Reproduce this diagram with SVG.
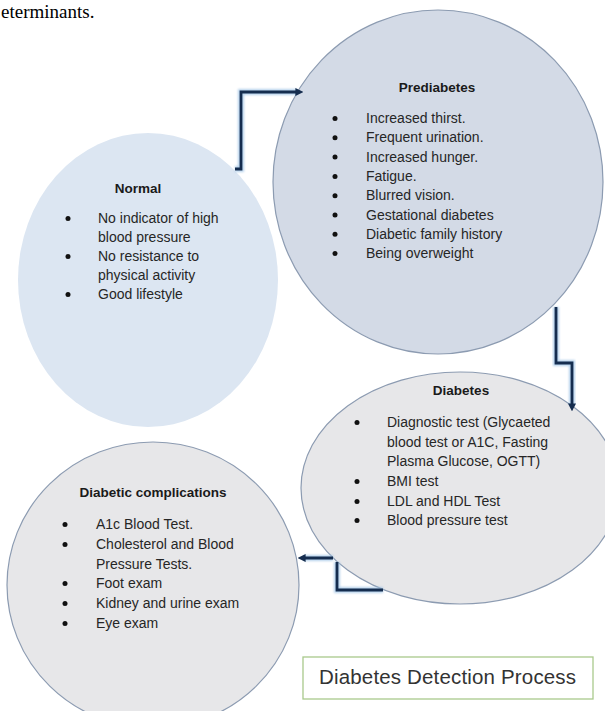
<svg xmlns="http://www.w3.org/2000/svg" xmlns:xlink="http://www.w3.org/1999/xlink" width="605" height="711" viewBox="0 0 605 711">
<style>
  .t{font-family:"Liberation Sans",Arial,sans-serif;font-size:14px;fill:#262626}
  .h{font-family:"Liberation Sans",Arial,sans-serif;font-size:13.5px;font-weight:bold;fill:#1a1a1a;text-anchor:middle}
  .b{fill:#111}
  .glow{fill:none;stroke:#9dc3e6;stroke-width:6;stroke-opacity:0.75;stroke-linejoin:miter;filter:url(#blur)}
  .line{fill:none;stroke:#152d4f;stroke-width:2.8;stroke-linejoin:miter;marker-end:url(#arr)}
  .cap{font-family:"Liberation Sans",Arial,sans-serif;font-size:20.5px;fill:#333}
</style>
<defs>
  <filter id="blur" x="-20%" y="-20%" width="140%" height="140%"><feGaussianBlur stdDeviation="1.2"/></filter>
  <marker id="arr" viewBox="0 0 10 10" refX="2" refY="5" markerWidth="8" markerHeight="8" markerUnits="userSpaceOnUse" orient="auto">
    <path d="M0,0 L10,5 L0,10 z" fill="#152d4f"/>
  </marker>
  <path id="c1" d="M235,169 H241 V92 H297"/>
  <path id="c2" d="M556,307 V363 H572 V405"/>
  <path id="c3" d="M383,590 H337 V562 M333,558 H304"/>
</defs>
<rect width="605" height="711" fill="#fff"/>
<text x="1" y="18" font-family="'Liberation Serif','Times New Roman',serif" font-size="19" fill="#000">eterminants.</text>

<g id="normal">
  <ellipse cx="148" cy="280" rx="130" ry="147" fill="#dce6f2"/>
  <text class="h" x="138" y="193">Normal</text>
  <circle class="b" cx="68" cy="218.5" r="2.5"/><circle class="b" cx="68" cy="256.5" r="2.5"/><circle class="b" cx="68" cy="294.5" r="2.5"/>
  <text class="t" x="98" y="223">No indicator of high</text>
  <text class="t" x="98" y="242">blood pressure</text>
  <text class="t" x="98" y="261">No resistance to</text>
  <text class="t" x="98" y="280">physical activity</text>
  <text class="t" x="98" y="299">Good lifestyle</text>
</g>

<g id="prediabetes">
  <ellipse cx="438" cy="182" rx="165" ry="172" fill="#d3dae6" stroke="#8c9bb1" stroke-width="1.2"/>
  <text class="h" x="437" y="92">Prediabetes</text>
  <circle class="b" cx="335" cy="118.5" r="2.5"/><circle class="b" cx="335" cy="137.8" r="2.5"/><circle class="b" cx="335" cy="157.1" r="2.5"/><circle class="b" cx="335" cy="176.4" r="2.5"/>
  <circle class="b" cx="335" cy="195.7" r="2.5"/><circle class="b" cx="335" cy="215" r="2.5"/><circle class="b" cx="335" cy="234.3" r="2.5"/><circle class="b" cx="335" cy="253.6" r="2.5"/>
  <text class="t" x="366" y="123">Increased thirst.</text>
  <text class="t" x="366" y="142.3">Frequent urination.</text>
  <text class="t" x="366" y="161.6">Increased hunger.</text>
  <text class="t" x="366" y="180.9">Fatigue.</text>
  <text class="t" x="366" y="200.2">Blurred vision.</text>
  <text class="t" x="366" y="219.5">Gestational diabetes</text>
  <text class="t" x="366" y="238.8">Diabetic family history</text>
  <text class="t" x="366" y="258.1">Being overweight</text>
</g>

<g id="diabetes">
  <ellipse cx="460" cy="488" rx="159" ry="116" fill="#e7e7e9" stroke="#8c9bb1" stroke-width="1.2"/>
  <text class="h" x="461" y="395">Diabetes</text>
  <circle class="b" cx="357" cy="422.5" r="2.5"/><circle class="b" cx="357" cy="481.5" r="2.5"/><circle class="b" cx="357" cy="501.5" r="2.5"/><circle class="b" cx="357" cy="520.5" r="2.5"/>
  <text class="t" x="387" y="427">Diagnostic test (Glycaeted</text>
  <text class="t" x="387" y="447">blood test or A1C, Fasting</text>
  <text class="t" x="387" y="466">Plasma Glucose, OGTT)</text>
  <text class="t" x="387" y="486">BMI test</text>
  <text class="t" x="387" y="506">LDL and HDL Test</text>
  <text class="t" x="387" y="525">Blood pressure test</text>
</g>

<g id="complications">
  <ellipse cx="153" cy="585" rx="146" ry="143" fill="#e7e7e9" stroke="#8c9bb1" stroke-width="1.2"/>
  <text class="h" x="153" y="497">Diabetic complications</text>
  <circle class="b" cx="65" cy="524.5" r="2.5"/><circle class="b" cx="65" cy="544.5" r="2.5"/><circle class="b" cx="65" cy="583.5" r="2.5"/><circle class="b" cx="65" cy="603.5" r="2.5"/><circle class="b" cx="65" cy="623.5" r="2.5"/>
  <text class="t" x="96" y="529">A1c Blood Test.</text>
  <text class="t" x="96" y="549">Cholesterol and Blood</text>
  <text class="t" x="96" y="569">Pressure Tests.</text>
  <text class="t" x="96" y="588">Foot exam</text>
  <text class="t" x="96" y="608">Kidney and urine exam</text>
  <text class="t" x="96" y="628">Eye exam</text>
</g>

<g id="connectors">
  <use xlink:href="#c1" class="glow"/>
  <use xlink:href="#c2" class="glow"/>
  <use xlink:href="#c3" class="glow"/>
  <use xlink:href="#c1" class="line"/>
  <use xlink:href="#c2" class="line"/>
  <use xlink:href="#c3" class="line"/>
</g>

<g id="caption">
  <rect x="303" y="657" width="290" height="42" fill="#fff" stroke="#a9c98c" stroke-width="1.3"/>
  <text class="cap" x="319" y="684" textLength="257">Diabetes Detection Process</text>
</g>
</svg>
